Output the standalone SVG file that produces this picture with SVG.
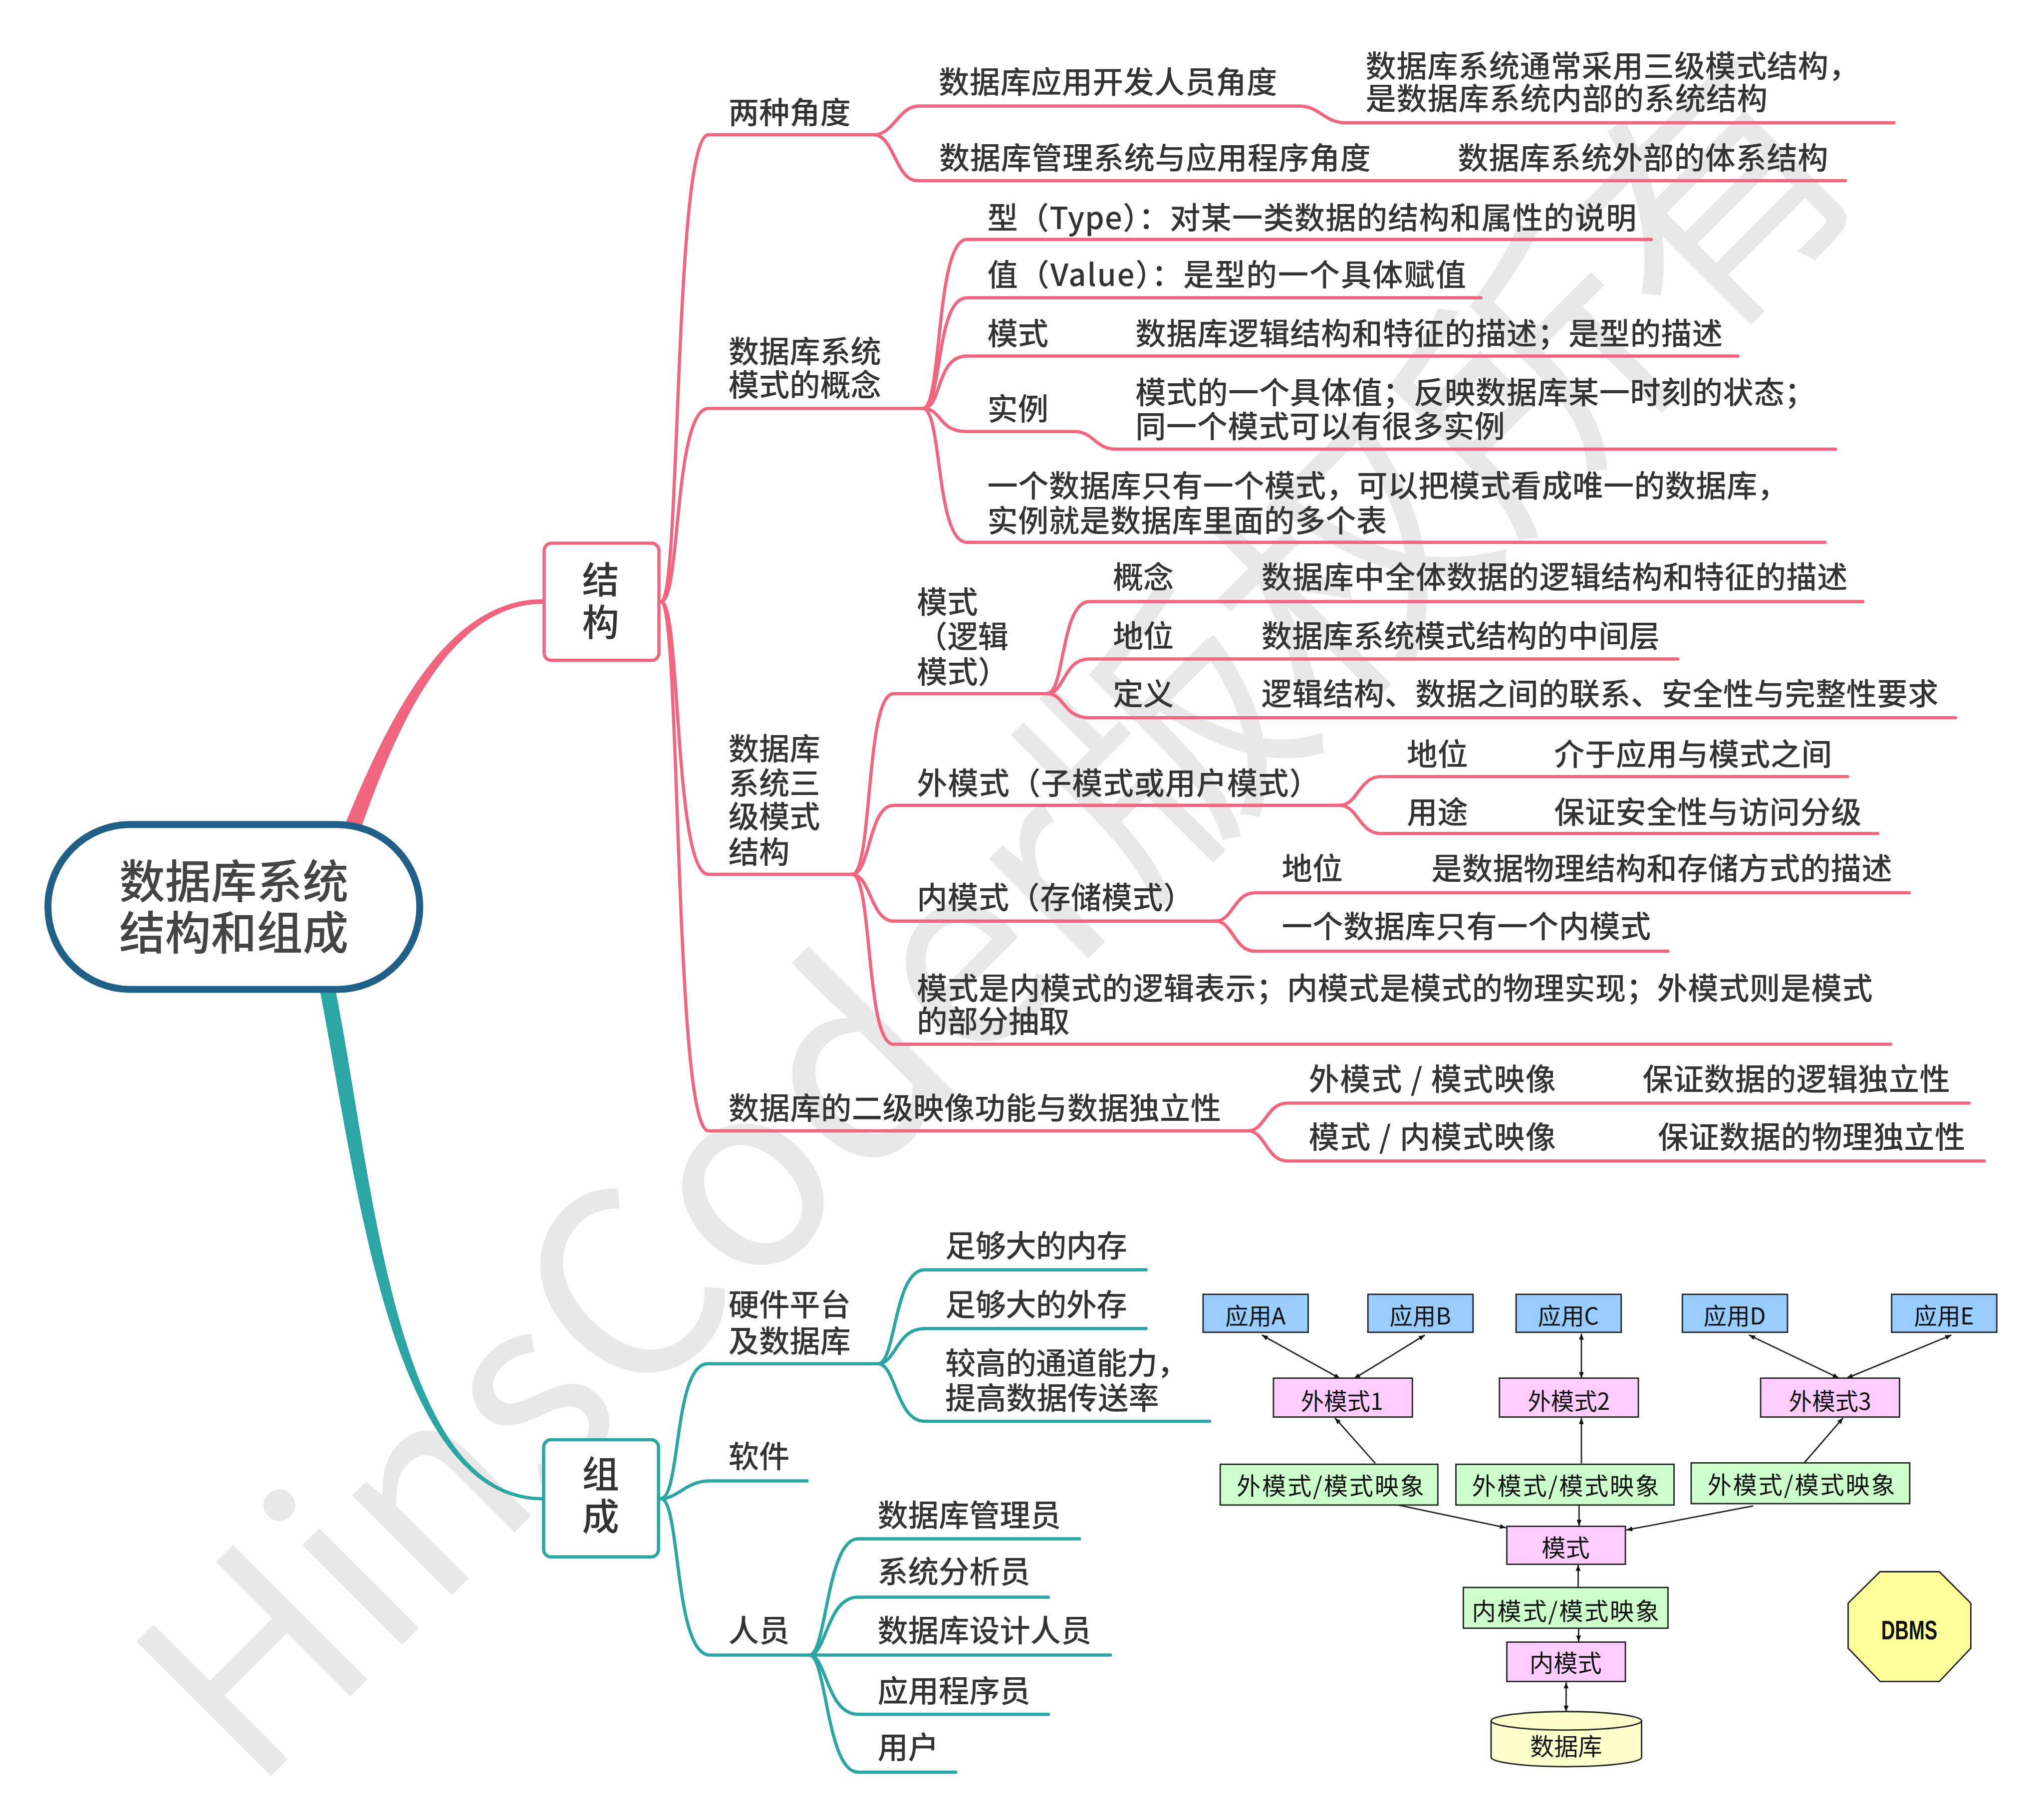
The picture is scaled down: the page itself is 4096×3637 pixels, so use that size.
<svg xmlns="http://www.w3.org/2000/svg" width="4096" height="3637" viewBox="0 0 4096 3637">
<style>
.t{font-family:"Noto Sans CJK SC","Liberation Sans",sans-serif;fill:#333;font-size:66px;font-weight:500}
.big{font-size:99px;fill:#444;text-anchor:middle}
.bt{font-size:80px;text-anchor:middle}
.pk{fill:none;stroke:#f1657f;stroke-width:7;stroke-linecap:round;stroke-linejoin:round}
.tl{fill:none;stroke:#2ba6a4;stroke-width:7;stroke-linecap:round;stroke-linejoin:round}
.bx{stroke:#222;stroke-width:3}
.app{fill:#99ccff}
.pm{fill:#ffccff}
.gm{fill:#ccffcc}
.d{font-family:"Noto Sans CJK SC","Liberation Sans",sans-serif;fill:#111;font-size:50px;text-anchor:middle}
.d2{font-size:52px}
.ar{fill:none;stroke:#222;stroke-width:3}
.wm{font-family:"Noto Sans CJK SC","Liberation Sans",sans-serif;fill:#e8e8e8;font-size:560px}
</style>
<defs>
<marker id="ah" viewBox="0 0 10 10" refX="10" refY="5" markerWidth="17" markerHeight="13" markerUnits="userSpaceOnUse" orient="auto-start-reverse"><path d="M0,1 L10,5 L0,9 z" fill="#111"/></marker>
</defs>
<rect width="4096" height="3637" fill="#fff"/>
<g transform="scale(0.92796)">
<g id="watermark"><text class="wm" transform="translate(545,3875) rotate(-45)" textLength="4950" lengthAdjust="spacing">HinsCoder版权所有</text></g>

<g id="connectors">
<path d="M741,1790 C835,1560 960,1294 1172,1294 L1172,1304 C975,1304 860,1560 779,1790 Z" fill="#f1657f"/>
<path d="M691,2140 C773,2562 845,3240 1172,3240 L1172,3233 C855,3233 807,2558 725,2140 Z" fill="#2ba6a4"/>
<g class="pk">
<path d="M1428,1299 C1470,1299 1455,291 1530,291 L1887,291"/>
<path d="M1428,1299 C1470,1299 1455,882 1530,882 L1993,882"/>
<path d="M1428,1299 C1470,1299 1455,1888 1530,1888 L1840,1888"/>
<path d="M1428,1299 C1470,1299 1455,2442 1530,2442 L2695,2442"/>
<path d="M1887,291 C1930,291 1940,229 1985,229 L2805,229 C2850,229 2860,265 2905,265 L4090,265"/>
<path d="M1887,291 C1930,291 1935,390 1980,390 L3985,390"/>
<path d="M1993,882 C2035,882 2020,517 2088,517 L3566,517"/>
<path d="M1993,882 C2035,882 2020,643 2088,643 L3198,643"/>
<path d="M1993,882 C2035,882 2020,769 2088,769 L3753,769"/>
<path d="M1993,882 C2035,882 2025,932 2088,932 L2320,932 C2362,932 2365,970 2410,970 L3964,970"/>
<path d="M1993,882 C2035,882 2020,1171 2088,1171 L3941,1171"/>
<path d="M1840,1888 C1885,1888 1868,1498 1930,1498 L2261,1498"/>
<path d="M1840,1888 C1880,1888 1875,1739 1930,1739 L2893,1739"/>
<path d="M1840,1888 C1880,1888 1880,1989 1930,1989 L2625,1989"/>
<path d="M1840,1888 C1885,1888 1868,2255 1930,2255 L4083,2255"/>
<path d="M2261,1498 C2300,1498 2290,1299 2353,1299 L4023,1299"/>
<path d="M2261,1498 C2300,1498 2295,1423 2353,1423 L3623,1423"/>
<path d="M2261,1498 C2300,1498 2295,1550 2353,1550 L4223,1550"/>
<path d="M2893,1739 C2932,1739 2935,1677 2982,1677 L3990,1677"/>
<path d="M2893,1739 C2932,1739 2935,1800 2982,1800 L4055,1800"/>
<path d="M2625,1989 C2662,1989 2665,1928 2710,1928 L4123,1928"/>
<path d="M2625,1989 C2662,1989 2665,2054 2710,2054 L3602,2054"/>
<path d="M2695,2442 C2732,2442 2735,2382 2780,2382 L4252,2382"/>
<path d="M2695,2442 C2732,2442 2735,2507 2780,2507 L4285,2507"/>
</g>
<g class="tl">
<path d="M1427,3236 C1470,3236 1455,2945 1528,2945 L1896,2945"/>
<path d="M1427,3236 C1465,3236 1480,3198 1533,3198 L1743,3198"/>
<path d="M1427,3236 C1470,3236 1455,3574 1533,3574 L2398,3574"/>
<path d="M1896,2945 C1935,2945 1930,2742 1997,2742 L2475,2742"/>
<path d="M1896,2945 C1935,2945 1935,2869 1997,2869 L2475,2869"/>
<path d="M1896,2945 C1935,2945 1935,3069 1997,3069 L2612,3069"/>
<path d="M1748,3574 C1785,3574 1785,3323 1853,3323 L2331,3323"/>
<path d="M1748,3574 C1785,3574 1785,3449 1853,3449 L2264,3449"/>
<path d="M1748,3574 C1785,3574 1785,3702 1853,3702 L2264,3702"/>
<path d="M1748,3574 C1785,3574 1785,3827 1853,3827 L2064,3827"/>
</g>
<g class="ar">
<path d="M2894,2977 L2725,2883" marker-start="url(#ah)" marker-end="url(#ah)"/>
<path d="M2924,2977 L3077,2883" marker-start="url(#ah)" marker-end="url(#ah)"/>
<path d="M3415,2976 L3415,2880" marker-start="url(#ah)" marker-end="url(#ah)"/>
<path d="M3971,2976 L3777,2883" marker-start="url(#ah)" marker-end="url(#ah)"/>
<path d="M3988,2976 L4214,2883" marker-start="url(#ah)" marker-end="url(#ah)"/>
<path d="M2970,3160 L2883,3062" marker-end="url(#ah)"/>
<path d="M3415,3160 L3415,3062" marker-end="url(#ah)"/>
<path d="M3897,3158 L3980,3062" marker-end="url(#ah)"/>
<path d="M3019,3250 L3252,3299" marker-end="url(#ah)"/>
<path d="M3410,3250 L3410,3295" marker-end="url(#ah)"/>
<path d="M3786,3252 L3512,3304" marker-end="url(#ah)"/>
<path d="M3408,3428 L3408,3379" marker-end="url(#ah)"/>
<path d="M3409,3517 L3409,3545" marker-end="url(#ah)"/>
<path d="M3382,3633 L3382,3696" marker-start="url(#ah)" marker-end="url(#ah)"/>
</g>
</g>

<g id="root">
<rect x="103.5" y="1780.5" width="803" height="356" rx="178" ry="178" fill="#fff" stroke="#1f5f88" stroke-width="15"/>
<text class="t big" x="505" y="1940">数据库系统</text>
<text class="t big" x="505" y="2051">结构和组成</text>
</g>
<g id="n-jiegou">
<rect x="1175" y="1173" width="248" height="253" rx="16" fill="#fff" stroke="#f1657f" stroke-width="7"/>
<text class="t bt" x="1297" y="1281">结</text>
<text class="t bt" x="1297" y="1373">构</text>
</g>
<g id="n-zucheng">
<rect x="1174" y="3109" width="248" height="253" rx="16" fill="#fff" stroke="#2ba6a4" stroke-width="7"/>
<text class="t bt" x="1297" y="3212">组</text>
<text class="t bt" x="1297" y="3304">成</text>
</g>

<g id="n-liangzhong"><text class="t" x="1573" y="267">两种角度</text></g>
<g id="n-kaifa"><text class="t" x="2027" y="202" textLength="731">数据库应用开发人员角度</text></g>
<g id="n-neibu"><text class="t" x="2949" y="167" textLength="1066">数据库系统通常采用三级模式结构，</text><text class="t" x="2949" y="237" textLength="868">是数据库系统内部的系统结构</text></g>
<g id="n-guanli"><text class="t" x="2028" y="365" textLength="932">数据库管理系统与应用程序角度</text></g>
<g id="n-waibu"><text class="t" x="3148" y="365" textLength="800">数据库系统外部的体系结构</text></g>

<g id="n-gainian"><text class="t" x="1573" y="783">数据库系统</text><text class="t" x="1573" y="856">模式的概念</text></g>
<g id="n-type"><text class="t" x="2132" y="495" textLength="1402">型（Type）：对某一类数据的结构和属性的说明</text></g>
<g id="n-value"><text class="t" x="2132" y="617" textLength="1034">值（Value）：是型的一个具体赋值</text></g>
<g id="n-moshi"><text class="t" x="2132" y="745">模式</text><text class="t" x="2452" y="745" textLength="1268">数据库逻辑结构和特征的描述；是型的描述</text></g>
<g id="n-shili"><text class="t" x="2132" y="907">实例</text><text class="t" x="2452" y="872" textLength="1468">模式的一个具体值；反映数据库某一时刻的状态；</text><text class="t" x="2452" y="945" textLength="798">同一个模式可以有很多实例</text></g>
<g id="n-yige"><text class="t" x="2132" y="1073" textLength="1729">一个数据库只有一个模式，可以把模式看成唯一的数据库，</text><text class="t" x="2132" y="1149" textLength="863">实例就是数据库里面的多个表</text></g>

<g id="n-sanji"><text class="t" x="1573" y="1641">数据库</text><text class="t" x="1573" y="1716">系统三</text><text class="t" x="1573" y="1788">级模式</text><text class="t" x="1573" y="1864">结构</text></g>
<g id="n-luoji"><text class="t" x="1980" y="1324">模式</text><text class="t" x="1980" y="1399">（逻辑</text><text class="t" x="1980" y="1475">模式）</text></g>
<g id="n-gn"><text class="t" x="2403" y="1271">概念</text><text class="t" x="2724" y="1271" textLength="1266">数据库中全体数据的逻辑结构和特征的描述</text></g>
<g id="n-dw1"><text class="t" x="2403" y="1398">地位</text><text class="t" x="2724" y="1398" textLength="860">数据库系统模式结构的中间层</text></g>
<g id="n-dy"><text class="t" x="2403" y="1523">定义</text><text class="t" x="2724" y="1523" textLength="1462">逻辑结构、数据之间的联系、安全性与完整性要求</text></g>
<g id="n-waimoshi"><text class="t" x="1980" y="1716" textLength="870">外模式（子模式或用户模式）</text></g>
<g id="n-dw2"><text class="t" x="3038" y="1653">地位</text><text class="t" x="3356" y="1653" textLength="600">介于应用与模式之间</text></g>
<g id="n-yt"><text class="t" x="3038" y="1778">用途</text><text class="t" x="3356" y="1778" textLength="664">保证安全性与访问分级</text></g>
<g id="n-neimoshi"><text class="t" x="1980" y="1962" textLength="598">内模式（存储模式）</text></g>
<g id="n-dw3"><text class="t" x="2768" y="1900">地位</text><text class="t" x="3091" y="1900" textLength="995">是数据物理结构和存储方式的描述</text></g>
<g id="n-yinei"><text class="t" x="2768" y="2025" textLength="797">一个数据库只有一个内模式</text></g>
<g id="n-biaoshi"><text class="t" x="1980" y="2158" textLength="2064">模式是内模式的逻辑表示；内模式是模式的物理实现；外模式则是模式</text><text class="t" x="1980" y="2230">的部分抽取</text></g>
<g id="n-erji"><text class="t" x="1573" y="2417" textLength="1064">数据库的二级映像功能与数据独立性</text></g>
<g id="n-ys1"><text class="t" x="2826" y="2355" textLength="534">外模式 / 模式映像</text><text class="t" x="3547" y="2355" textLength="664">保证数据的逻辑独立性</text></g>
<g id="n-ys2"><text class="t" x="2826" y="2480" textLength="534">模式 / 内模式映像</text><text class="t" x="3580" y="2480" textLength="664">保证数据的物理独立性</text></g>

<g id="n-yingjian"><text class="t" x="1573" y="2842">硬件平台</text><text class="t" x="1573" y="2920">及数据库</text></g>
<g id="n-nc"><text class="t" x="2041" y="2715" textLength="393">足够大的内存</text></g>
<g id="n-wc"><text class="t" x="2041" y="2842" textLength="393">足够大的外存</text></g>
<g id="n-td"><text class="t" x="2041" y="2968" textLength="524">较高的通道能力，</text><text class="t" x="2041" y="3043" textLength="462">提高数据传送率</text></g>
<g id="n-rj"><text class="t" x="1573" y="3169">软件</text></g>
<g id="n-ry"><text class="t" x="1573" y="3545">人员</text></g>
<g id="n-gly"><text class="t" x="1895" y="3296" textLength="396">数据库管理员</text></g>
<g id="n-fxy"><text class="t" x="1895" y="3418" textLength="330">系统分析员</text></g>
<g id="n-sjry"><text class="t" x="1895" y="3545" textLength="462">数据库设计人员</text></g>
<g id="n-cxy"><text class="t" x="1895" y="3676" textLength="330">应用程序员</text></g>
<g id="n-yh"><text class="t" x="1895" y="3798">用户</text></g>

<g id="d-appA"><rect class="bx app" x="2598" y="2795" width="227" height="82"/><text class="d" x="2711" y="2860">应用A</text></g>
<g id="d-appB"><rect class="bx app" x="2954" y="2795" width="227" height="82"/><text class="d" x="3067" y="2860">应用B</text></g>
<g id="d-appC"><rect class="bx app" x="3274" y="2795" width="227" height="82"/><text class="d" x="3387" y="2860">应用C</text></g>
<g id="d-appD"><rect class="bx app" x="3633" y="2795" width="227" height="82"/><text class="d" x="3746" y="2860">应用D</text></g>
<g id="d-appE"><rect class="bx app" x="4085" y="2795" width="227" height="82"/><text class="d" x="4198" y="2860">应用E</text></g>
<g id="d-wm1"><rect class="bx pm" x="2750" y="2976" width="300" height="84"/><text class="d" x="2898" y="3044">外模式1</text></g>
<g id="d-wm2"><rect class="bx pm" x="3238" y="2976" width="300" height="84"/><text class="d" x="3388" y="3044">外模式2</text></g>
<g id="d-wm3"><rect class="bx pm" x="3802" y="2976" width="300" height="84"/><text class="d" x="3952" y="3044">外模式3</text></g>
<g id="d-ys1"><rect class="bx gm" x="2635" y="3162" width="470" height="88"/><text class="d d2" x="2873" y="3228" textLength="405">外模式/模式映象</text></g>
<g id="d-ys2"><rect class="bx gm" x="3144" y="3162" width="471" height="88"/><text class="d d2" x="3381" y="3228" textLength="405">外模式/模式映象</text></g>
<g id="d-ys3"><rect class="bx gm" x="3652" y="3159" width="472" height="88"/><text class="d d2" x="3890" y="3225" textLength="405">外模式/模式映象</text></g>
<g id="d-ms"><rect class="bx pm" x="3254" y="3296" width="256" height="82"/><text class="d d2" x="3381" y="3361">模式</text></g>
<g id="d-nys"><rect class="bx gm" x="3160" y="3428" width="442" height="88"/><text class="d d2" x="3381" y="3498" textLength="405">内模式/模式映象</text></g>
<g id="d-nms"><rect class="bx pm" x="3254" y="3546" width="256" height="85"/><text class="d d2" x="3381" y="3610">内模式</text></g>
<g id="d-db">
<path class="bx" d="M3220,3716 L3220,3795 A162.5,20 0 0 0 3545,3795 L3545,3716 Z" fill="#ffffcc"/>
<ellipse class="bx" cx="3382.5" cy="3716" rx="162.5" ry="20" fill="#ffffcc"/>
<text class="d d2" x="3382" y="3790">数据库</text>
</g>
<g id="d-dbms">
<polygon class="bx" points="4060,3394 4188,3394 4256,3462 4256,3559 4188,3631 4060,3631 3991,3559 3991,3462" fill="#ffff99"/>
<text x="4123" y="3540" font-family="Liberation Sans, sans-serif" font-weight="bold" font-size="58" text-anchor="middle" fill="#111" textLength="121" lengthAdjust="spacingAndGlyphs">DBMS</text>
</g>
</g>
</svg>
